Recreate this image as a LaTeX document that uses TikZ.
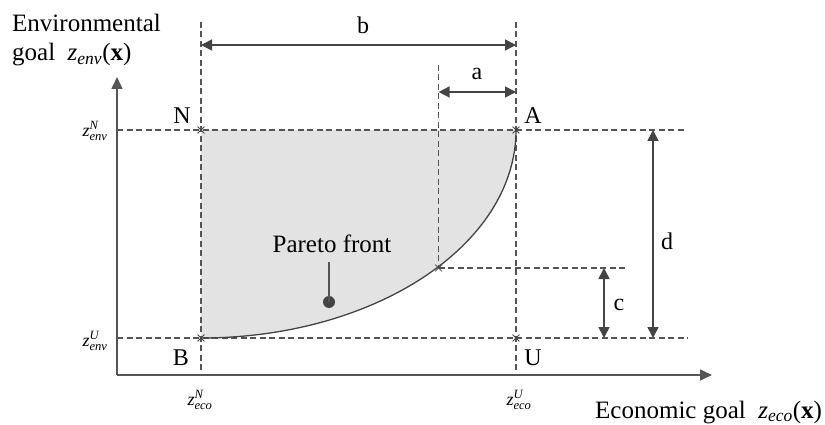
\documentclass[tikz,border=0pt]{standalone}
\usepackage{amsmath}
\usepackage{fontspec}
\setmainfont{Liberation Serif}
\usetikzlibrary{arrows.meta,shapes.misc}
\definecolor{ln}{HTML}{555555}
\definecolor{dk}{HTML}{444444}
\definecolor{fillg}{HTML}{E3E3E3}
\newcommand\zsym[2]{\textit{z}$^{\textit{#2}}_{\textit{#1}}$}
\tikzset{
  dsh/.style={ln, line width=1.2pt, dash pattern=on 6pt off 3.5pt},
  dimarrow/.style={dk, line width=1.6pt, {Triangle[length=11pt,width=11pt]}-{Triangle[length=11pt,width=11pt]}},
  axis/.style={ln, line width=1.6pt, -{Triangle[length=12pt,width=11pt]}},
  lbl/.style={font=\fontsize{24}{26}\selectfont, inner sep=0pt},
  big/.style={font=\fontsize{25}{27}\selectfont, inner sep=0pt},
  small/.style={font=\fontsize{18}{20}\selectfont, inner sep=0pt},
  xmark/.style={cross out, draw=dk, line width=0.8pt, minimum size=6pt, inner sep=0pt},
}
\begin{document}
\begin{tikzpicture}[x=1pt,y=-1pt]
\useasboundingbox (0,0) rectangle (825,425);
% key points
\coordinate (O) at (117,375);
\coordinate (N) at (201,130);
\coordinate (A) at (516,130);
\coordinate (B) at (201,338);
\coordinate (U) at (516,338);
\coordinate (P) at (438.6,268);
% fill
\fill[fillg] (N) -- (A) arc[start angle=0,end angle=90,x radius=315,y radius=208] -- cycle;
% dashed guides
\coordinate (Nl) at (117,130); \coordinate (Nr) at (685,130);
\coordinate (Bl) at (117,338); \coordinate (Br) at (688,338);
\coordinate (Pr) at (626,268);
\coordinate (Nt) at (201,22); \coordinate (Nb) at (201,375);
\coordinate (At) at (516,22); \coordinate (Ab) at (516,375);
\coordinate (Pt) at (438.6,65);
\draw[dsh] (Nl) -- (Nr);
\draw[dsh] (Bl) -- (Br);
\draw[dsh] (P) -- (Pr);
\draw[dsh] (Nt) -- (Nb);
\draw[dsh] (At) -- (Ab);
\draw[dsh] (Pt) -- (P);
% axes
\coordinate (Yt) at (117,77);
\coordinate (Xr) at (712,375);
\draw[axis] (O) -- (Yt);
\draw[axis] (O) -- (Xr);
% pareto curve
\draw[dk, line width=1.3pt] (A) arc[start angle=0,end angle=90,x radius=315,y radius=208];
% marks
\foreach \p in {N,A,B,U,P} \node[xmark] at (\p) {};
% dimension arrows
\coordinate (b1) at (201,45); \coordinate (b2) at (516,45);
\coordinate (a1) at (438.6,92); \coordinate (a2) at (516,92);
\coordinate (d1) at (653,130); \coordinate (d2) at (653,338);
\coordinate (c1) at (604,268); \coordinate (c2) at (604,338);
\draw[dimarrow] (b1) -- (b2);
\draw[dimarrow] (a1) -- (a2);
\draw[dimarrow] (d1) -- (d2);
\draw[dimarrow] (c1) -- (c2);
\node[lbl] (lb) at (363,25) {b};
\node[lbl] (la) at (477,74) {a};
\node[lbl] (ld) at (667,241) {d};
\node[lbl] (lc) at (619,305) {c};
% point labels
\node[lbl] (lN) at (182,116) {N};
\node[lbl] (lA) at (533,116) {A};
\node[lbl] (lB) at (181,358) {B};
\node[lbl] (lU) at (533,358) {U};
% pareto front label
\node[big] (pf) at (332,244) {Pareto front};
\coordinate (pl) at (329,262);
\node[circle, fill=dk, inner sep=0pt, minimum size=12pt] (dot) at (329,302) {};
\draw[ln, line width=1.6pt] (pl) -- (dot.center);
% axis tick labels
\node[small] (zeN) at (95,131) {\zsym{env}{N}};
\node[small] (zeU) at (95,341) {\zsym{env}{U}};
\node[small] (zcN) at (200,400) {\zsym{eco}{N}};
\node[small] (zcU) at (519,400) {\zsym{eco}{U}};
% axis titles
\node[big, anchor=base west] (t1) at (12,32) {Environmental};
\node[big, anchor=base west] (t2) at (12,61) {goal~~\textit{z}$_{\textit{env}}$(\textbf{x})};
\node[big, anchor=base west] (t3) at (595,418) {Economic goal~~\textit{z}$_{\textit{eco}}$(\textbf{x})};
\end{tikzpicture}
\end{document}
